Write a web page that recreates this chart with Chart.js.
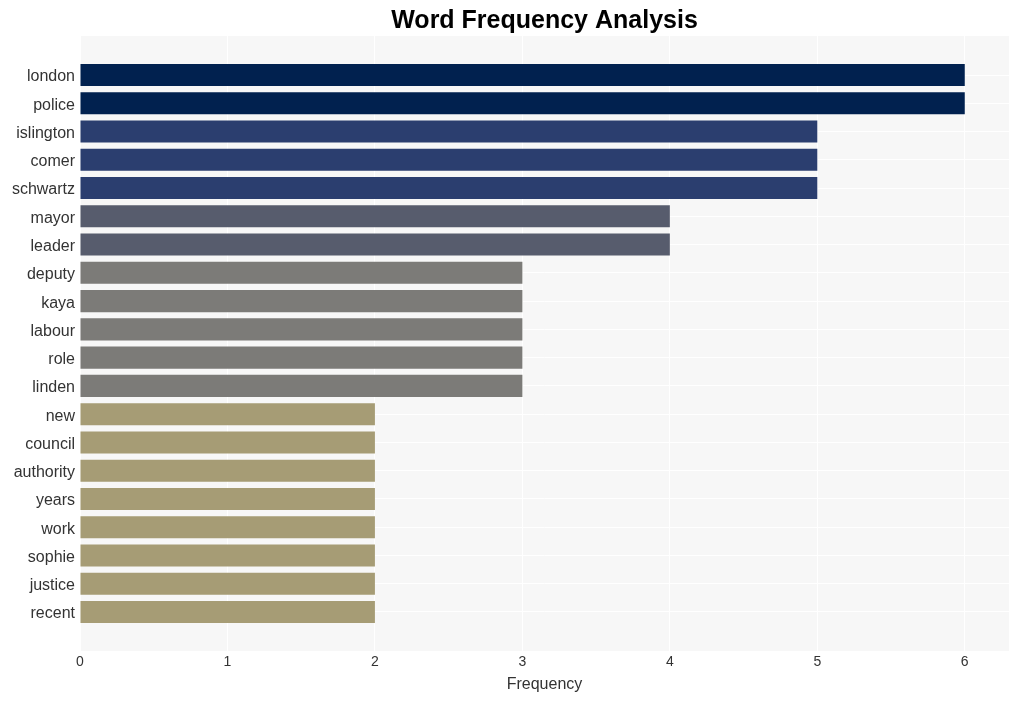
<!DOCTYPE html>
<html>
<head>
<meta charset="utf-8">
<script src="https://cdn.jsdelivr.net/npm/chart.js@4/dist/chart.umd.min.js"></script>
<style>
  html, body { margin: 0; padding: 0; background: #ffffff; }
  #wrap { width: 1020px; height: 701px; }
</style>
</head>
<body>
<div id="wrap"><canvas id="c" width="1020" height="701"></canvas></div>
<script>
const words = ["london","police","islington","comer","schwartz","mayor","leader","deputy","kaya","labour","role","linden","new","council","authority","years","work","sophie","justice","recent"];
const frequencies = [6,6,5,5,5,4,4,3,3,3,3,3,2,2,2,2,2,2,2,2];
const xTicks = [0,1,2,3,4,5,6];
const colorByValue = {6: "#01214f", 5: "#2b3e6f", 4: "#575c6d", 3: "#7c7b78", 2: "#a69c75"};

const plotBg = {
  id: 'plotBg',
  beforeDraw(chart) {
    const {ctx, chartArea: a} = chart;
    ctx.save();
    ctx.fillStyle = '#f7f7f7';
    ctx.fillRect(a.left, a.top, a.right - a.left, a.bottom - a.top);
    ctx.restore();
  }
};

const points = words.map((w, i) => ({x: frequencies[i], y: i}));

new Chart(document.getElementById('c'), {
  type: 'bar',
  data: {
    datasets: [{
      data: points,
      backgroundColor: ctx => colorByValue[frequencies[ctx.dataIndex]],
      borderWidth: 0,
      categoryPercentage: 1,
      barPercentage: 0.78
    }]
  },
  plugins: [plotBg],
  options: {
    indexAxis: 'y',
    responsive: false,
    animation: false,
    layout: { padding: { left: 0, right: 11, top: 0, bottom: 0 } },
    plugins: {
      legend: { display: false },
      tooltip: { enabled: false },
      title: {
        display: true,
        fullSize: false,
        text: 'Word Frequency Analysis',
        color: '#000000',
        font: { family: 'Liberation Sans, Arial, sans-serif', size: 25, weight: 'bold' },
        padding: { top: 6, bottom: 0 }
      }
    },
    scales: {
      x: {
        type: 'linear',
        bounds: 'data',
        min: 0,
        max: 6.3,
        afterBuildTicks: s => { s.ticks = xTicks.map(v => ({value: v})); },
        afterFit: s => { s.height = 50; },
        grid: { color: '#ffffff', lineWidth: 1, drawTicks: false, tickLength: 0 },
        border: { display: false },
        ticks: {
          color: '#333333',
          padding: 3,
          font: { family: 'Liberation Sans, Arial, sans-serif', size: 14 }
        },
        title: {
          display: true,
          text: 'Frequency',
          color: '#333333',
          padding: { top: 4, bottom: 7 },
          font: { family: 'Liberation Sans, Arial, sans-serif', size: 16 }
        }
      },
      y: {
        type: 'linear',
        bounds: 'data',
        offset: false,
        reverse: true,
        min: -1.38,
        max: 20.38,
        afterBuildTicks: s => { s.ticks = words.map((w, i) => ({value: i})); },
        afterFit: s => { s.width = 80; },
        grid: { offset: false, color: '#ffffff', lineWidth: 1, drawTicks: false, tickLength: 0 },
        border: { display: false },
        ticks: {
          color: '#333333',
          padding: 5,
          labelOffset: 2,
          autoSkip: false,
          callback: v => words[v],
          font: { family: 'Liberation Sans, Arial, sans-serif', size: 16 }
        }
      }
    }
  }
});
</script>
</body>
</html>
